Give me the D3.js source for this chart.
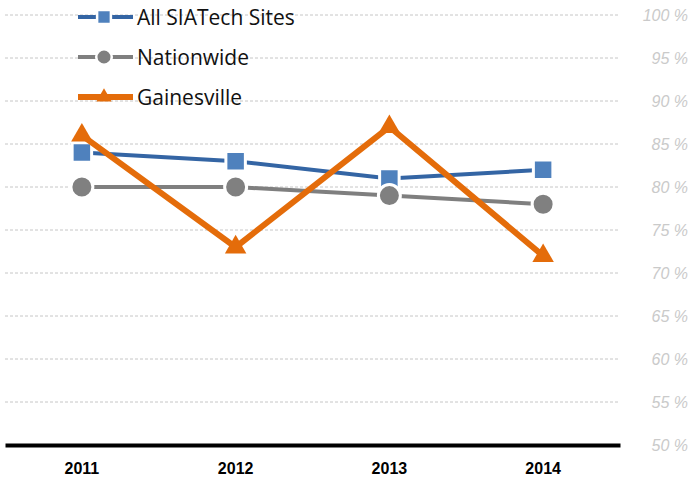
<!DOCTYPE html>
<html lang="en"><head>
<meta charset="utf-8">
<title>SIATech chart</title>
<script src="https://cdn.jsdelivr.net/npm/d3@7"></script>
<style>
  body { margin: 0; background: #fff; }
</style>
</head>
<body>
<script>
// data
var years = ["2011", "2012", "2013", "2014"];
var siatech = [84, 83, 81, 82];
var nationwide = [80, 80, 79, 78];
var gainesville = [86, 73, 87, 72];
var yTicks = [50, 55, 60, 65, 70, 75, 80, 85, 90, 95, 100];

var w = 690, h = 484;
var svg = d3.select("body").append("svg").attr("width", w).attr("height", h);

var x = d3.scaleBand().domain(years).range([5, 620]);
var y = d3.scaleLinear().domain([50, 100]).range([445, 15]);

// gridlines
svg.selectAll("line.grid")
   .data(yTicks.slice(1))
   .enter().append("line")
   .attr("x1", 5).attr("x2", 620)
   .attr("y1", function(d) { return y(d); })
   .attr("y2", function(d) { return y(d); })
   .attr("stroke", "#c6c6c6")
   .attr("stroke-width", 1)
   .attr("stroke-dasharray", "3,2");

// y labels on the right
svg.selectAll("text.ylab")
   .data(yTicks)
   .enter().append("text")
   .attr("x", 688)
   .attr("y", function(d) { return y(d) + 6; })
   .attr("text-anchor", "end")
   .attr("font-family", "'Liberation Sans', sans-serif")
   .attr("font-style", "italic")
   .attr("font-size", "16px")
   .attr("fill", "#cacaca")
   .text(function(d) { return d + " %"; });

// x axis
var xAxis = svg.append("g")
   .attr("transform", "translate(0," + y(50) + ")")
   .call(d3.axisBottom(x).tickSize(0).tickPadding(18));
xAxis.select(".domain").attr("stroke", "#000").attr("stroke-width", 4);
xAxis.selectAll("text")
   .attr("font-family", "'Liberation Sans', sans-serif")
   .attr("font-weight", "bold")
   .attr("font-size", "16px")
   .attr("fill", "#000");

var cx = function(d, i) { return x(years[i]) + x.bandwidth() / 2; };

var series = [
  { name: "All SIATech Sites", values: siatech, line: "#3465a4", mark: "#4f81bd", width: 4, shape: d3.symbolSquare, size: 380 },
  { name: "Nationwide", values: nationwide, line: "#7f7f7f", mark: "#808080", width: 4, shape: d3.symbolCircle, size: 380 },
  { name: "Gainesville", values: gainesville, line: "#e46c0a", mark: "#e46c0a", width: 6, shape: d3.symbolTriangle, size: 200 }
];

var line = d3.line().x(cx).y(function(d) { return y(d); });

series.forEach(function(s) {
  svg.append("path")
     .datum(s.values)
     .attr("d", line)
     .attr("fill", "none")
     .attr("stroke", s.line)
     .attr("stroke-width", s.width);
  svg.selectAll(null)
     .data(s.values)
     .enter().append("path")
     .attr("transform", function(d, i) { return "translate(" + cx(d, i) + "," + y(d) + ")"; })
     .attr("d", d3.symbol().type(s.shape).size(s.size))
     .attr("fill", s.mark)
     .attr("stroke", s.shape === d3.symbolTriangle ? "none" : "#fff")
     .attr("stroke-width", 3);
});

// legend
var lg = svg.selectAll("g.legend")
   .data(series)
   .enter().append("g")
   .attr("transform", function(d, i) { return "translate(0," + (17 + i * 40) + ")"; });
lg.append("line")
   .attr("x1", 78).attr("x2", 133)
   .attr("stroke", function(d) { return d.line; })
   .attr("stroke-width", function(d) { return d.width; });
lg.append("path")
   .attr("transform", "translate(104,0)")
   .attr("d", function(d) { return d3.symbol().type(d.shape).size(d.size * 0.5)(); })
   .attr("fill", function(d) { return d.mark; })
   .attr("stroke", function(d) { return d.shape === d3.symbolTriangle ? "none" : "#fff"; })
   .attr("stroke-width", 2.5);
lg.append("text")
   .attr("x", 137).attr("y", 8)
   .attr("font-family", "'Open Sans', sans-serif")
   .attr("font-size", "21px")
   .attr("fill", "#111")
   .text(function(d) { return d.name; });
</script>
</body></html>
